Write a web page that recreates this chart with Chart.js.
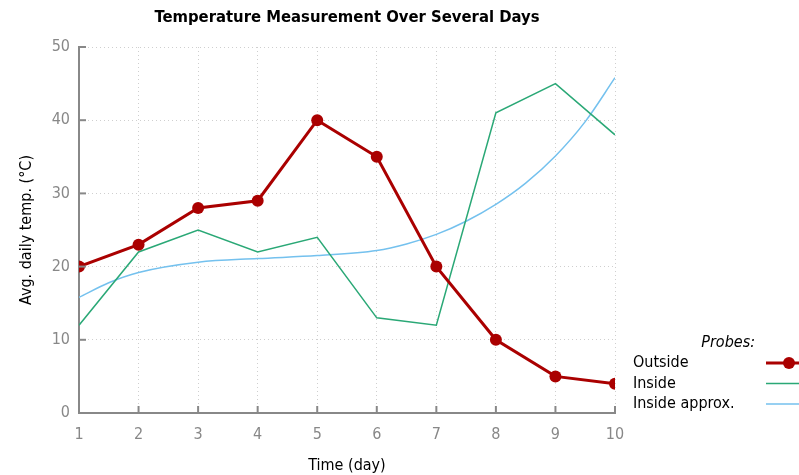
<!DOCTYPE html>
<html>
<head>
<meta charset="utf-8">
<script src="https://cdn.jsdelivr.net/npm/chart.js@4"></script>
<style>
html,body{margin:0;padding:0;background:#fff;}
#wrap{width:799px;height:475px;position:relative;}
</style>
</head>
<body>
<div id="wrap"><canvas id="c" width="799" height="475"></canvas></div>
<script>
const days = [1,2,3,4,5,6,7,8,9,10];
const outside = [20,23,28,29,40,35,20,10,5,4];
const inside = [12,22,25,22,24,13,12,41,45,38];
const approxDays = [1,1.5,2,3,4,5,6,6.5,7,7.5,8,8.5,9,9.5,10];
const approxVals = [15.8,17.8,19.2,20.6,21.1,21.5,22.2,23.1,24.4,26.2,28.5,31.4,35.1,39.8,45.8];
const yTicks = [0,10,20,30,40,50];
const seriesNames = ['Outside','Inside','Inside approx.'];
const titleText = 'Temperature Measurement Over Several Days';
const legendTitle = 'Probes:';
const xTitle = 'Time (day)';
const yTitle = 'Avg. daily temp. (°C)';

const FONT = '"DejaVu Sans Condensed", "DejaVu Sans", sans-serif';
const colors = ['#aa0000','#2aa876','#74c1ee'];

const pts = (xs, ys) => xs.map((x,i)=>({x:x,y:ys[i]}));

const extras = {
  id:'extras',
  afterDraw(chart){
    const ctx = chart.ctx, ca = chart.chartArea;
    const xs = chart.scales.x, ys = chart.scales.y;
    ctx.save();
    // inward tick marks
    ctx.strokeStyle = '#888'; ctx.lineWidth = 2;
    xs.ticks.forEach(t=>{const p=xs.getPixelForValue(t.value);ctx.beginPath();ctx.moveTo(p,ca.bottom);ctx.lineTo(p,ca.bottom-7);ctx.stroke();});
    ys.ticks.forEach(t=>{const p=ys.getPixelForValue(t.value);ctx.beginPath();ctx.moveTo(ca.left,p);ctx.lineTo(ca.left+7,p);ctx.stroke();});
    // title
    ctx.fillStyle = '#000';
    ctx.font = 'bold 16.5px ' + FONT;
    ctx.textAlign = 'center'; ctx.textBaseline = 'middle';
    ctx.fillText(titleText, (ca.left+ca.right)/2, 18);
    // legend
    const lx = 633, ly0 = 363, dy = 20.5;
    ctx.font = 'italic 16px ' + FONT;
    ctx.textAlign = 'right';
    ctx.fillText(legendTitle, 755, ly0 - 20.5);
    ctx.font = '16px ' + FONT;
    ctx.textAlign = 'left';
    chart.data.datasets.forEach((ds,i)=>{
      const y = ly0 + i*dy;
      ctx.fillStyle = '#000';
      ctx.fillText(ds.label, lx, y);
      ctx.strokeStyle = ds.borderColor; ctx.lineWidth = ds.borderWidth;
      ctx.beginPath(); ctx.moveTo(766, y); ctx.lineTo(805, y); ctx.stroke();
      if (ds.pointRadius > 0) {
        ctx.fillStyle = ds.borderColor;
        ctx.beginPath(); ctx.arc(789, y, ds.pointRadius, 0, Math.PI*2); ctx.fill();
      }
    });
    ctx.restore();
  }
};

new Chart(document.getElementById('c'), {
  type:'line',
  data:{
    datasets:[
      {label:seriesNames[0], data:pts(days,outside), borderColor:colors[0], backgroundColor:colors[0], borderWidth:3, pointRadius:6, pointHoverRadius:6, pointBorderWidth:0, tension:0},
      {label:seriesNames[1], data:pts(days,inside), borderColor:colors[1], backgroundColor:colors[1], borderWidth:1.5, pointRadius:0, tension:0},
      {label:seriesNames[2], data:pts(approxDays,approxVals), borderColor:colors[2], backgroundColor:colors[2], borderWidth:1.5, pointRadius:0, cubicInterpolationMode:'monotone'}
    ]
  },
  options:{
    responsive:false, animation:false, devicePixelRatio:1,
    layout:{padding:{top:47,right:184,bottom:0,left:0}},
    plugins:{legend:{display:false}, title:{display:false}, tooltip:{enabled:false}},
    scales:{
      x:{
        type:'linear', min:1, max:10,
        afterBuildTicks(s){ s.ticks = days.map(v=>({value:v})); },
        afterFit(s){ s.height = 62; },
        ticks:{color:'#888', font:{family:FONT,size:16}, padding:12, maxRotation:0},
        grid:{color:'#cfcfcf', lineWidth:1, drawTicks:false, tickLength:0},
        border:{display:true, color:'#888', width:2, dash:[1,3]},
        title:{display:true, text:xTitle, color:'#000', font:{family:FONT,size:16}, padding:{top:2,bottom:0}}
      },
      y:{
        min:0, max:50,
        afterBuildTicks(s){ s.ticks = yTicks.map(v=>({value:v})); },
        afterFit(s){ s.width = 79; },
        ticks:{color:'#888', font:{family:FONT,size:16}, padding:9},
        grid:{color:'#cfcfcf', lineWidth:1, drawTicks:false, tickLength:0},
        border:{display:true, color:'#888', width:2, dash:[1,3]},
        title:{display:true, text:yTitle, color:'#000', font:{family:FONT,size:16}, padding:{top:17,bottom:10}}
      }
    }
  },
  plugins:[extras]
});
</script>
</body>
</html>
